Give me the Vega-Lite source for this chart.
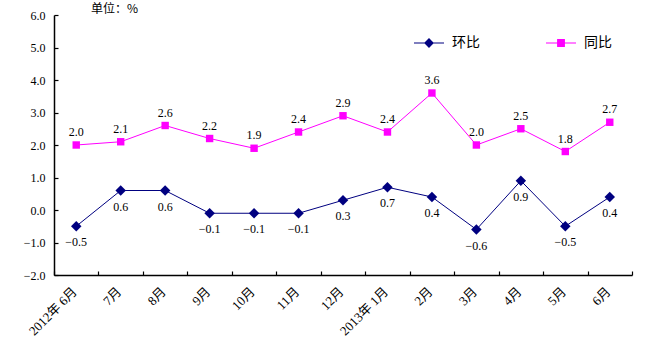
{
  "$schema": "https://vega.github.io/schema/vega-lite/v6.json",
  "width": 578,
  "height": 260,
  "autosize": {"type": "none"},
  "padding": {"left": 54, "top": 15, "right": 38, "bottom": 81},
  "background": "white",
  "config": {
    "font": "'Liberation Serif', 'Noto Sans CJK SC'",
    "view": {"stroke": null},
    "axis": {"grid": false, "domainColor": "black", "tickColor": "black", "labelColor": "black", "domainWidth": 1.5, "tickWidth": 1.2, "labelFontSize": 12, "labelFont": "'Liberation Serif', 'Noto Sans CJK SC'"}
  },
  "title": {"text": "单位：%", "anchor": "start", "frame": "group", "dx": 37, "offset": -7, "fontSize": 12, "fontWeight": "normal", "font": "Noto Sans CJK SC", "color": "black"},
  "data": {"values": [
    {"month": "2012年 6月", "series": "环比", "value": -0.5},
    {"month": "7月", "series": "环比", "value": 0.6},
    {"month": "8月", "series": "环比", "value": 0.6},
    {"month": "9月", "series": "环比", "value": -0.1},
    {"month": "10月", "series": "环比", "value": -0.1},
    {"month": "11月", "series": "环比", "value": -0.1},
    {"month": "12月", "series": "环比", "value": 0.3},
    {"month": "2013年 1月", "series": "环比", "value": 0.7},
    {"month": "2月", "series": "环比", "value": 0.4},
    {"month": "3月", "series": "环比", "value": -0.6},
    {"month": "4月", "series": "环比", "value": 0.9},
    {"month": "5月", "series": "环比", "value": -0.5},
    {"month": "6月", "series": "环比", "value": 0.4},
    {"month": "2012年 6月", "series": "同比", "value": 2.0},
    {"month": "7月", "series": "同比", "value": 2.1},
    {"month": "8月", "series": "同比", "value": 2.6},
    {"month": "9月", "series": "同比", "value": 2.2},
    {"month": "10月", "series": "同比", "value": 1.9},
    {"month": "11月", "series": "同比", "value": 2.4},
    {"month": "12月", "series": "同比", "value": 2.9},
    {"month": "2013年 1月", "series": "同比", "value": 2.4},
    {"month": "2月", "series": "同比", "value": 3.6},
    {"month": "3月", "series": "同比", "value": 2.0},
    {"month": "4月", "series": "同比", "value": 2.5},
    {"month": "5月", "series": "同比", "value": 1.8},
    {"month": "6月", "series": "同比", "value": 2.7}
  ]},
  "encoding": {
    "x": {
      "field": "month", "type": "ordinal",
      "sort": ["2012年 6月", "7月", "8月", "9月", "10月", "11月", "12月", "2013年 1月", "2月", "3月", "4月", "5月", "6月"],
      "scale": {"type": "band", "paddingInner": 0, "paddingOuter": 0},
      "axis": {"title": null, "labelAngle": -45, "tickBand": "extent", "tickSize": -4, "labelPadding": 14, "labelOffset": -6, "labelFontSize": 13}
    },
    "y": {
      "field": "value", "type": "quantitative",
      "scale": {"domain": [-2, 6], "nice": false, "zero": false},
      "axis": {"title": null, "values": [-2, -1, 0, 1, 2, 3, 4, 5, 6], "format": ".1f", "tickSize": -4, "labelPadding": 13}
    },
    "color": {
      "field": "series", "type": "nominal",
      "scale": {"domain": ["环比", "同比"], "range": ["#000080", "#FF00FF"]},
      "legend": {
        "title": null, "orient": "none", "direction": "horizontal", "legendX": 359, "legendY": 12,
        "symbolSize": 900, "symbolStrokeWidth": 1.2, "columnPadding": 63, "labelFontSize": 14, "labelFont": "Noto Sans CJK SC", "labelColor": "black", "labelOffset": 7,
        "encode": {"symbols": {"update": {
          "shape": {"signal": "datum.value === '环比' ? 'M-1,0L1,0M-0.27,0L0,-0.27L0.27,0L0,0.27Z' : 'M-1,0L1,0M-0.22,-0.22L0.22,-0.22L0.22,0.22L-0.22,0.22Z'"},
          "fill": {"signal": "datum.value === '环比' ? '#000080' : '#FF00FF'"},
          "stroke": {"signal": "datum.value === '环比' ? '#000080' : '#FF00FF'"},
          "opacity": {"value": 1}
        }}}
      }
    }
  },
  "layer": [
    {"mark": {"type": "line", "strokeWidth": 1}},
    {
      "transform": [{"filter": "datum.series === '环比'"}],
      "mark": {"type": "point", "shape": "diamond", "filled": true, "opacity": 1, "size": 110}
    },
    {
      "transform": [{"filter": "datum.series === '同比'"}],
      "mark": {"type": "point", "shape": "square", "filled": true, "opacity": 1, "size": 55}
    },
    {
      "transform": [{"filter": "datum.series === '同比'"}],
      "mark": {"type": "text", "dy": -13, "fontSize": 12, "color": "black"},
      "encoding": {"text": {"field": "value", "type": "quantitative", "format": ".1f"}, "color": {"value": "black"}}
    },
    {
      "transform": [{"filter": "datum.series === '环比'"}],
      "mark": {"type": "text", "dy": 16, "fontSize": 12, "color": "black"},
      "encoding": {"text": {"field": "value", "type": "quantitative", "format": ".1f"}, "color": {"value": "black"}}
    }
  ]
}
